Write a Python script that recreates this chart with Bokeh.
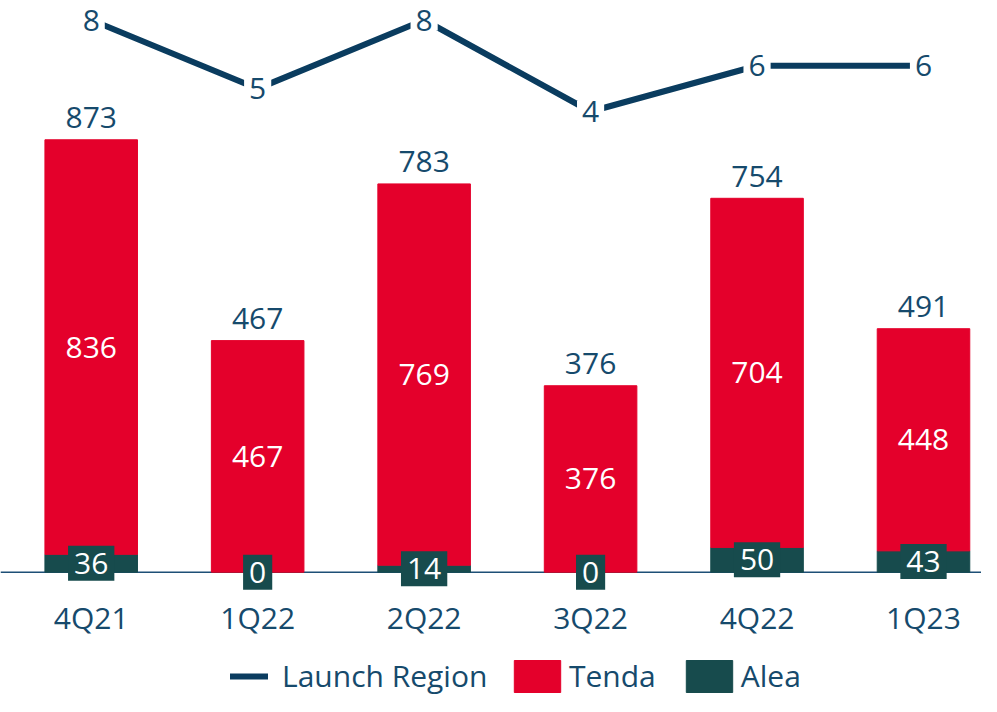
from bokeh.plotting import figure
from bokeh.models import Range1d, ColumnDataSource, Span, Legend, LegendItem
from bokeh.core.properties import value
from bokeh.embed import file_html
from bokeh.resources import INLINE

# ---- data ----
quarters = ["4Q21", "1Q22", "2Q22", "3Q22", "4Q22", "1Q23"]
alea = [36, 0, 14, 0, 50, 43]
tenda = [836, 467, 769, 376, 704, 448]
totals = [873, 467, 783, 376, 754, 491]
launch_region = [8, 5, 8, 4, 6, 6]

# ---- styles ----
RED = "#e4002b"
TEAL = "#174b4d"
NAVY = "#0a3c5f"
TXT = "#164a6c"
FONT = value("Open Sans")
FS = "30px"

x = list(range(len(quarters)))
stack_top = [a + t for a, t in zip(alea, tenda)]
alea_mid = [a / 2 for a in alea]
tenda_mid = [a + t / 2 for a, t in zip(alea, tenda)]

src = ColumnDataSource(dict(
    x=x, q=quarters, alea=alea, tenda=tenda, top=stack_top,
    alea_mid=alea_mid, tenda_mid=tenda_mid, totals=totals, lr=launch_region,
    alea_s=[str(v) for v in alea], tenda_s=[str(v) for v in tenda],
    totals_s=[str(v) for v in totals], lr_s=[str(v) for v in launch_region],
    zero=[0] * len(x),
))

p = figure(frame_width=981, frame_height=696,
           x_range=Range1d(-0.5449, 5.3484), y_range=Range1d(-250.7, 1152.9),
           output_backend="svg", toolbar_location=None,
           x_axis_type=None, y_axis_type=None,
           min_border=0, outline_line_color=None)
p.extra_y_ranges = {"lr": Range1d(-21.574, 8.8525)}

BW = 0.556
alea_r = p.vbar(x="x", bottom="zero", top="alea", width=BW, source=src,
                fill_color=TEAL, line_color=TEAL)
tenda_r = p.vbar(x="x", bottom="alea", top="top", width=BW, source=src,
                 fill_color=RED, line_color=RED)

base = Span(location=0, dimension="width", line_color="#1d4f76", line_width=1.6,
            level="underlay")
p.add_layout(base)

common = dict(text_font=FONT, text_font_size=FS, text_align="center",
              text_baseline="middle", source=src)

# Alea labels with boxes
p.text(x="x", y="alea_mid", text="alea_s", text_color="white",
       background_fill_color=TEAL,
       padding=dict(left=6, right=6, top=7, bottom=7), **common)
# Tenda labels
p.text(x="x", y="tenda_mid", text="tenda_s", text_color="white", **common)
# totals
p.text(x="x", y="totals", text="totals_s", text_color=TXT, y_offset=-22, **common)
# category labels
p.text(x="x", y="zero", text="q", text_color=TXT, y_offset=45, **common)

# launch region line
lr_r = p.line(x="x", y="lr", y_range_name="lr", source=src, line_color=NAVY,
              line_width=6, line_cap="round")
p.text(x="x", y="lr", text="lr_s", y_range_name="lr", text_color=TXT,
       background_fill_color="white",
       padding=dict(left=5, right=5, top=0, bottom=0), **common)

# legend
leg1 = Legend(items=[LegendItem(label="Launch Region", renderers=[lr_r])],
              location=(230, 0), orientation="horizontal",
              glyph_width=38, glyph_height=40, label_height=40,
              label_standoff=14, padding=0, margin=0,
              background_fill_alpha=0, border_line_alpha=0,
              label_text_font="Open Sans", label_text_font_size=FS,
              label_text_color=TXT)
leg2 = Legend(items=[LegendItem(label="Tenda", renderers=[tenda_r]),
                     LegendItem(label="Alea", renderers=[alea_r])],
              location=(508, 0), orientation="horizontal",
              glyph_width=58, glyph_height=40, label_height=40,
              label_standoff=3, spacing=24, padding=0, margin=0,
              background_fill_alpha=0, border_line_alpha=0,
              label_text_font="Open Sans", label_text_font_size=FS,
              label_text_color=TXT)
p.add_layout(leg1)
p.add_layout(leg2)

open("out.html", "w").write(file_html(p, INLINE))
